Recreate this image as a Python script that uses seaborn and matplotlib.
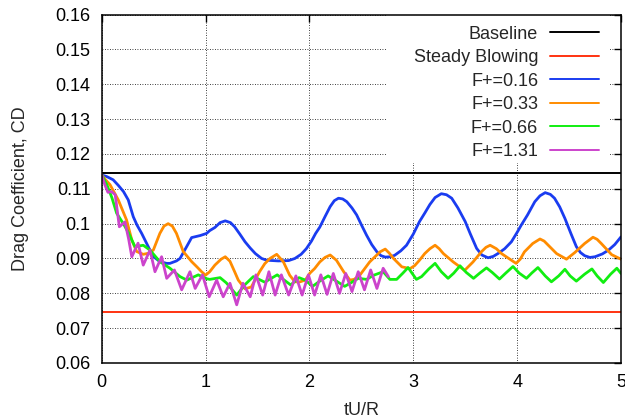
import matplotlib
matplotlib.use("Agg")
import matplotlib.pyplot as plt
from matplotlib.patches import Rectangle
import seaborn as sns
import pandas as pd

# Reference levels
baseline_cd = 0.1145
steady_cd = 0.0747

# F+=0.16
t_016 = [0.00, 0.05, 0.11, 0.16, 0.21, 0.256, 0.304, 0.34, 0.385, 0.465, 0.50, 0.56,
         0.625, 0.657, 0.72, 0.754, 0.818, 0.866, 0.95, 1.01, 1.04, 1.09, 1.14, 1.19,
         1.24, 1.28, 1.33, 1.38, 1.43, 1.48, 1.54, 1.59, 1.70, 1.80, 1.86, 1.92, 1.97,
         2.02, 2.06, 2.10, 2.15, 2.20, 2.24, 2.28, 2.32, 2.36, 2.41, 2.455, 2.50, 2.55,
         2.60, 2.65, 2.69, 2.73, 2.78, 2.82, 2.88, 2.935, 3.00, 3.06, 3.11, 3.16, 3.21,
         3.27, 3.32, 3.37, 3.43, 3.50, 3.55, 3.61, 3.66, 3.72, 3.77, 3.82, 3.88, 3.945,
         4.00, 4.04, 4.10, 4.17, 4.22, 4.27, 4.32, 4.36, 4.41, 4.46, 4.52, 4.57, 4.61,
         4.65, 4.70, 4.75, 4.82, 4.88, 4.94, 5.00]
cd_016 = [0.1140, 0.1135, 0.1126, 0.1110, 0.1092, 0.1068, 0.1020, 0.0996, 0.0972, 0.0924,
          0.0905, 0.0891, 0.0886, 0.0886, 0.0893, 0.0900, 0.0934, 0.0960, 0.0966, 0.0972,
          0.0980, 0.0989, 0.1003, 0.1008, 0.1003, 0.0991, 0.0970, 0.0948, 0.0930, 0.0914,
          0.0900, 0.0895, 0.0893, 0.0894, 0.0900, 0.0912, 0.0928, 0.0950, 0.0972, 0.0990,
          0.1020, 0.1049, 0.1066, 0.1073, 0.1071, 0.1063, 0.1045, 0.1025, 0.0997, 0.0967,
          0.0940, 0.0919, 0.0908, 0.0904, 0.0905, 0.0909, 0.0922, 0.0938, 0.0970, 0.1006,
          0.1030, 0.1055, 0.1075, 0.1086, 0.1083, 0.1073, 0.1045, 0.1006, 0.0970, 0.0929,
          0.0910, 0.0902, 0.0906, 0.0915, 0.0928, 0.0948, 0.0975, 0.0996, 0.1025, 0.1063,
          0.1080, 0.1089, 0.1084, 0.1073, 0.1048, 0.1015, 0.0970, 0.0934, 0.0917, 0.0908,
          0.0903, 0.0905, 0.0913, 0.0924, 0.0940, 0.0962]

# F+=0.33
t_033 = [0.00, 0.04, 0.08, 0.16, 0.24, 0.29, 0.337, 0.40, 0.45, 0.497, 0.56, 0.60, 0.64,
         0.68, 0.72, 0.785, 0.866, 0.92, 0.962, 1.00, 1.04, 1.09, 1.15, 1.19, 1.235, 1.28,
         1.315, 1.38, 1.44, 1.48, 1.52, 1.57, 1.62, 1.685, 1.75, 1.81, 1.86, 1.91, 1.96,
         2.005, 2.05, 2.10, 2.15, 2.20, 2.26, 2.33, 2.39, 2.43, 2.485, 2.53, 2.58, 2.68,
         2.73, 2.77, 2.81, 2.89, 2.97, 3.015, 3.06, 3.11, 3.16, 3.21, 3.25, 3.29, 3.385,
         3.44, 3.495, 3.575, 3.655, 3.70, 3.74, 3.80, 3.85, 3.92, 3.99, 4.03, 4.07, 4.15,
         4.22, 4.26, 4.30, 4.38, 4.475, 4.555, 4.65, 4.73, 4.77, 4.81, 4.91, 5.00]
cd_033 = [0.1140, 0.1125, 0.1112, 0.1068, 0.1010, 0.0953, 0.0920, 0.0912, 0.0915, 0.0924,
          0.0972, 0.0993, 0.1000, 0.0993, 0.0972, 0.0920, 0.0891, 0.0875, 0.0862, 0.0852,
          0.0862, 0.0881, 0.0898, 0.0905, 0.0892, 0.0862, 0.0838, 0.0813, 0.0818, 0.0840,
          0.0862, 0.0885, 0.0900, 0.0912, 0.0890, 0.0852, 0.0833, 0.0833, 0.0838, 0.0858,
          0.0871, 0.0890, 0.0903, 0.0910, 0.0895, 0.0862, 0.0838, 0.0840, 0.0852, 0.0870,
          0.0890, 0.0919, 0.0927, 0.0915, 0.0900, 0.0876, 0.0871, 0.0880, 0.0895, 0.0914,
          0.0928, 0.0938, 0.0928, 0.0914, 0.0890, 0.0878, 0.0866, 0.0890, 0.0919, 0.0932,
          0.0938, 0.0928, 0.0914, 0.0900, 0.0886, 0.0898, 0.0919, 0.0943, 0.0956, 0.0950,
          0.0938, 0.0914, 0.0898, 0.0917, 0.0943, 0.0961, 0.0955, 0.0943, 0.0911, 0.0898]

# F+=0.66
t_066 = [0.00, 0.05, 0.10, 0.144, 0.208, 0.256, 0.32, 0.40, 0.465, 0.56, 0.657, 0.754,
         0.82, 0.93, 1.01, 1.04, 1.14, 1.20, 1.30, 1.38, 1.46, 1.57, 1.69, 1.82, 1.90,
         1.96, 2.03, 2.10, 2.18, 2.26, 2.34, 2.41, 2.47, 2.55, 2.62, 2.71, 2.775, 2.84,
         2.90, 2.95, 3.03, 3.08, 3.15, 3.21, 3.27, 3.335, 3.39, 3.45, 3.51, 3.58, 3.64,
         3.705, 3.76, 3.83, 3.89, 3.96, 4.02, 4.09, 4.14, 4.20, 4.27, 4.33, 4.40, 4.46,
         4.51, 4.57, 4.65, 4.72, 4.77, 4.83, 4.90, 4.96, 5.00]
cd_066 = [0.1140, 0.1112, 0.1073, 0.1030, 0.1000, 0.0975, 0.0934, 0.0938, 0.0924, 0.0891,
          0.0872, 0.0848, 0.0838, 0.0853, 0.0842, 0.0840, 0.0845, 0.0830, 0.0795, 0.0825,
          0.0848, 0.0832, 0.0853, 0.0824, 0.0845, 0.0838, 0.0820, 0.0835, 0.0850, 0.0835,
          0.0820, 0.0832, 0.0843, 0.0840, 0.0852, 0.0862, 0.0840, 0.0840, 0.0858, 0.0874,
          0.0840, 0.0848, 0.0870, 0.0886, 0.0862, 0.0843, 0.0858, 0.0879, 0.0860, 0.0843,
          0.0858, 0.0873, 0.0860, 0.0841, 0.0858, 0.0877, 0.0858, 0.0843, 0.0858, 0.0874,
          0.0850, 0.0833, 0.0850, 0.0869, 0.0850, 0.0835, 0.0855, 0.0870, 0.0850, 0.0831,
          0.0855, 0.0872, 0.0857]

# F+=1.31
t_131 = [0.00, 0.03, 0.06, 0.096, 0.13, 0.17, 0.224, 0.26, 0.29, 0.35, 0.40, 0.465,
         0.513, 0.577, 0.626, 0.70, 0.77, 0.85, 0.90, 0.97, 1.035, 1.107, 1.17, 1.235,
         1.30, 1.36, 1.43, 1.485, 1.55, 1.61, 1.67, 1.73, 1.80, 1.87, 1.93, 1.99, 2.05,
         2.11, 2.17, 2.23, 2.29, 2.35, 2.41, 2.47, 2.53, 2.59, 2.65, 2.71, 2.76]
cd_131 = [0.1140, 0.1112, 0.1090, 0.1092, 0.1083, 0.0991, 0.1005, 0.0955, 0.0905, 0.0944,
          0.0881, 0.0924, 0.0862, 0.0905, 0.0843, 0.0867, 0.0810, 0.0862, 0.0814, 0.0853,
          0.0790, 0.0838, 0.0790, 0.0829, 0.0767, 0.0829, 0.0790, 0.0853, 0.0795, 0.0862,
          0.0795, 0.0853, 0.0795, 0.0850, 0.0795, 0.0853, 0.0795, 0.0853, 0.0797, 0.0857,
          0.0800, 0.0857, 0.0805, 0.0862, 0.0810, 0.0867, 0.0814, 0.0872, 0.0848]

series = [
    ("F+=0.16", t_016, cd_016, "#1a3cf0"),
    ("F+=0.33", t_033, cd_033, "#ff8c00"),
    ("F+=0.66", t_066, cd_066, "#11ee11"),
    ("F+=1.31", t_131, cd_131, "#cc44cc"),
]

FS = 13

sns.set_style("white")
plt.rcParams["font.family"] = ["Liberation Sans", "DejaVu Sans"]
plt.rcParams["font.size"] = FS

fig = plt.figure(figsize=(6.25, 4.19), dpi=100)
ax = fig.add_axes([0.1627, 0.1337, 0.8309, 0.8313])

ax.axhline(baseline_cd, color="black", lw=1.4, label="Baseline", zorder=3)
ax.axhline(steady_cd, color="#ff3311", lw=1.4, label="Steady Blowing", zorder=3)

for name, t, cd, col in series:
    df = pd.DataFrame({"tU/R": t, "CD": cd})
    sns.lineplot(data=df, x="tU/R", y="CD", color=col, lw=2.0, label=name,
                 sort=False, estimator=None, ax=ax, zorder=3)

ax.set_xlim(0, 5)
ax.set_ylim(0.06, 0.16)
ax.set_xticks([0, 1, 2, 3, 4, 5])
ax.set_xticklabels(["0", "1", "2", "3", "4", "5"])
yt = [0.06, 0.07, 0.08, 0.09, 0.10, 0.11, 0.12, 0.13, 0.14, 0.15, 0.16]
ax.set_yticks(yt)
ax.set_yticklabels(["0.06", "0.07", "0.08", "0.09", "0.1", "0.11", "0.12", "0.13",
                    "0.14", "0.15", "0.16"])

ax.grid(True, color="black", lw=0.6, linestyle=(0, (1, 2)), zorder=1)
ax.set_axisbelow(True)
ax.tick_params(direction="in", length=5, width=1, top=True, right=True,
               labelsize=FS, colors="black")
ax.tick_params(axis="y", pad=8)
ax.tick_params(axis="x", pad=8)
for s in ax.spines.values():
    s.set_color("black")
    s.set_linewidth(1.1)
    s.set_zorder(5)

ax.set_xlabel("tU/R", fontsize=FS, labelpad=8)
ax.set_ylabel("Drag Coefficient, CD", fontsize=FS, labelpad=19)

# opaque key area that hides the grid behind the legend
ax.add_patch(Rectangle((0.549, 0.574), 0.430, 0.426, transform=ax.transAxes,
                       facecolor="white", edgecolor="none", zorder=2))

leg = ax.legend(loc="upper right", bbox_to_anchor=(0.958, 0.968),
                markerfirst=False, frameon=False, fontsize=FS,
                handlelength=2.7, handletextpad=0.68, labelspacing=0.36,
                borderaxespad=0.0, borderpad=0.0)
leg.set_zorder(4)
for ln in leg.get_lines():
    ln.set_linewidth(1.4)

fig.savefig("out.png", dpi=100)
